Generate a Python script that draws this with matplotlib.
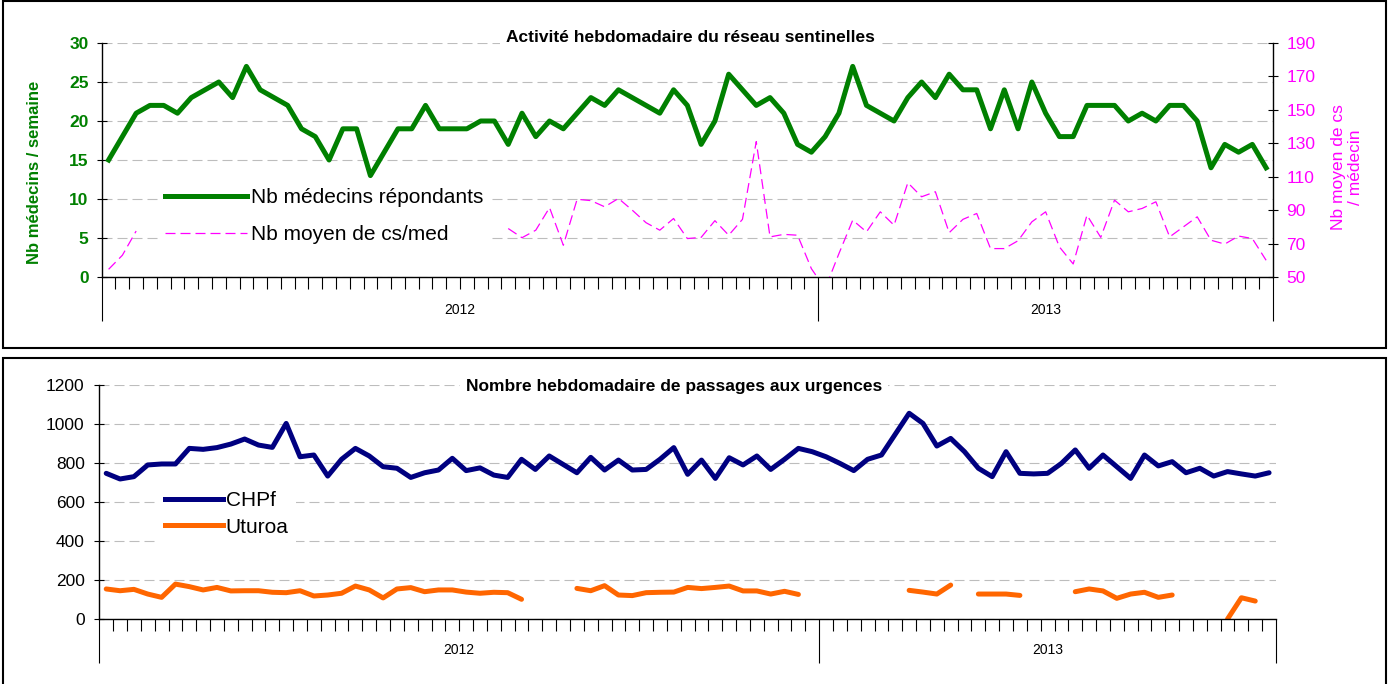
import numpy as np
import matplotlib
matplotlib.use('Agg')
import matplotlib.pyplot as plt
from matplotlib.lines import Line2D
from matplotlib.patches import Rectangle

plt.rcParams['font.family'] = ['Liberation Sans', 'DejaVu Sans']

years = ['2012', '2013']
weeks_per_year = [52, 33]

# top chart : sentinel network
medecins = [15, 18, 21, 22, 22, 21, 23, 24, 25, 23,
            27, 24, 23, 22, 19, 18, 15, 19, 19, 13,
            16, 19, 19, 22, 19, 19, 19, 20, 20, 17,
            21, 18, 20, 19, 21, 23, 22, 24, 23, 22,
            21, 24, 22, 17, 20, 26, 24, 22, 23, 21,
            17, 16, 18, 21, 27, 22, 21, 20, 23, 25,
            23, 26, 24, 24, 19, 24, 19, 25, 21, 18,
            18, 22, 22, 22, 20, 21, 20, 22, 22, 20,
            14, 17, 16, 17, 14]
# values under the legend box are not readable
cs_med = [54.6, 63, 77.5] + [None] * 26 + [79,
          73.5, 78, 91.5, 69, 96.5, 95.7, 92, 97, 90, 82.5,
          78, 85, 73, 73.7, 83.7, 75, 84.5, 131, 74, 75.5,
          75, 55, 43, 64, 84, 77, 89, 81, 106.4, 98,
          101, 76.5, 84.5, 88, 67, 67, 71.7, 83, 89, 68,
          57.8, 87, 73.7, 96, 89, 91, 95, 74, 80, 86,
          72, 69.7, 74.5, 73, 60]

# bottom chart : emergency visits
chpf = [747, 718, 730, 790, 795, 795, 875, 870, 879, 897,
        923, 892, 880, 1003, 832, 841, 733, 819, 875, 836,
        781, 773, 726, 750, 764, 824, 761, 775, 738, 726,
        819, 767, 836, 793, 750, 829, 764, 815, 764, 767,
        819, 879, 742, 815, 721, 827, 790, 836, 767, 819,
        875, 858, 832, 798, 761, 819, 841, 948, 1055, 1003,
        887, 926, 858, 773, 730, 858, 747, 744, 747, 798,
        867, 773, 841, 781, 721, 841, 785, 807, 750, 773,
        733, 756, 744, 733, 750]
uturoa = [154, 145, 152, 128, 111, 179, 166, 149, 162, 144,
          145, 145, 137, 135, 145, 118, 123, 132, 169, 149,
          108, 154, 161, 140, 149, 149, 138, 132, 137, 135,
          101, None, None, None, 157, 145, 171, 123, 120, 135,
          137, 138, 162, 156, 162, 169, 144, 144, 128, 142,
          126, None, None, None, None, None, None, None, 147, 138,
          128, 174, None, 128, 128, 128, 121, None, None, None,
          140, 154, 144, 106, 128, 137, 111, 123, None, None,
          None, 0, 109, 92, None]

n = len(medecins)
x = np.arange(n)
W, H = 1389, 684

fig = plt.figure(figsize=(W / 100, H / 100), dpi=100)


def px(x0, y0, x1, y1):
    return [x0 / W, 1 - y1 / H, (x1 - x0) / W, (y1 - y0) / H]


def frame(y0, y1):
    fig.add_artist(Rectangle((3 / W, 1 - y1 / H), (1386 - 3) / W, (y1 - y0) / H,
                             transform=fig.transFigure, fill=False, lw=1.5, ec='black'))


def week_axis(ax, ylab):
    bounds = np.concatenate([[0], np.cumsum(weeks_per_year)]) - 0.5
    ax.set_xlim(-0.5, n - 0.5)
    ax.set_xticks(bounds)
    ax.set_xticklabels([])
    ax.set_xticks(np.arange(n + 1) - 0.5, minor=True)
    ax.tick_params(axis='x', which='major', length=32, width=0.8, direction='out')
    ax.tick_params(axis='x', which='minor', length=8.5, width=0.8, direction='out')
    for yr, a, b in zip(years, bounds[:-1], bounds[1:]):
        ax.text((a + b) / 2, ylab, yr, transform=ax.get_xaxis_transform(),
                ha='center', va='center', fontsize=10)


def grid(ax):
    ax.yaxis.grid(True, color='#bdbdbd', lw=0.8, linestyle=(0, (9, 4.5)))
    ax.set_axisbelow(True)


frame(1, 348)
frame(358, 700)

# ---- top chart
ax1 = fig.add_axes(px(101.7, 43, 1273, 277))
ax1.plot(x, medecins, color='#008000', lw=3.6, solid_joinstyle='round', zorder=3)
ax1.set_ylim(0, 30)
ax1.set_yticks(range(0, 31, 5))
ax1.tick_params(axis='y', direction='inout', length=7, width=0.8, pad=6,
                labelsize=12.5, labelcolor='#008000')
for t in ax1.get_yticklabels():
    t.set_fontweight('bold')
grid(ax1)
week_axis(ax1, -0.141)
for s in ['top', 'right']:
    ax1.spines[s].set_visible(False)
fig.text(35 / W, 1 - 172 / H, 'Nb médecins / semaine', rotation=90, ha='center', va='center',
         color='#008000', fontsize=12, fontweight='bold')

ax1r = ax1.twinx()
ax1r.plot(x, np.array(cs_med, dtype=float), color='#ff00ff', lw=0.9, linestyle=(0, (8, 4)))
ax1r.set_ylim(50, 190)
ax1r.set_yticks(range(50, 191, 20))
ax1r.tick_params(axis='y', direction='inout', length=7, width=0.8, pad=6,
                 labelsize=12.5, labelcolor='#ff00ff')
ax1r.spines['top'].set_visible(False)
ax1r.spines['left'].set_visible(False)
ax1r.spines['bottom'].set_visible(False)
fig.text(1347 / W, 1 - 167 / H, 'Nb moyen de cs\n/ médecin', rotation=90, ha='center',
         va='center', color='#ff00ff', fontsize=12.5, multialignment='center')

h1 = [Line2D([], [], color='#008000', lw=3.6),
      Line2D([], [], color='#ff00ff', lw=0.9, linestyle=(0, (8, 4)))]
leg = ax1r.legend(h1, ['Nb médecins répondants', 'Nb moyen de cs/med'], loc='upper left',
                  bbox_to_anchor=(158 / W, 1 - 181 / H), bbox_transform=fig.transFigure,
                  fontsize=15, handlelength=3.9, handletextpad=0.2, labelspacing=0.87,
                  borderpad=0.35, borderaxespad=0, fancybox=False, framealpha=1)
leg.get_frame().set_edgecolor('none')

fig.text(690 / W, 1 - 37 / H, 'Activité hebdomadaire du réseau sentinelles', ha='center',
         va='center', fontsize=12.5, fontweight='bold',
         bbox=dict(facecolor='white', edgecolor='none', pad=4))

# ---- bottom chart
ax2 = fig.add_axes(px(99.3, 385, 1276, 619))
ax2.plot(x, chpf, color='#000080', lw=3.6, solid_joinstyle='round', solid_capstyle='round')
ax2.plot(x, np.array(uturoa, dtype=float), color='#ff6600', lw=3.6,
         solid_joinstyle='round', solid_capstyle='round')
ax2.set_ylim(0, 1200)
ax2.set_yticks(range(0, 1201, 200))
ax2.tick_params(axis='y', direction='inout', length=7, width=0.8, pad=7, labelsize=12.5)
grid(ax2)
week_axis(ax2, -0.132)
for s in ['top', 'right']:
    ax2.spines[s].set_visible(False)

h2 = [Line2D([], [], color='#000080', lw=3.6), Line2D([], [], color='#ff6600', lw=3.6)]
leg2 = ax2.legend(h2, ['CHPf', 'Uturoa'], loc='upper left',
                  bbox_to_anchor=(158 / W, 1 - 484 / H), bbox_transform=fig.transFigure,
                  fontsize=15, handlelength=2.75, handletextpad=0.15, labelspacing=0.35,
                  borderpad=0.35, borderaxespad=0, fancybox=False, framealpha=1)
leg2.get_frame().set_edgecolor('none')

fig.text(674 / W, 1 - 386 / H, 'Nombre hebdomadaire de passages aux urgences', ha='center',
         va='center', fontsize=12.5, fontweight='bold',
         bbox=dict(facecolor='white', edgecolor='none', pad=4))

for ax in (ax1, ax1r, ax2):
    for s in ax.spines.values():
        s.set_linewidth(1.0)

fig.savefig('out.png', dpi=100)
